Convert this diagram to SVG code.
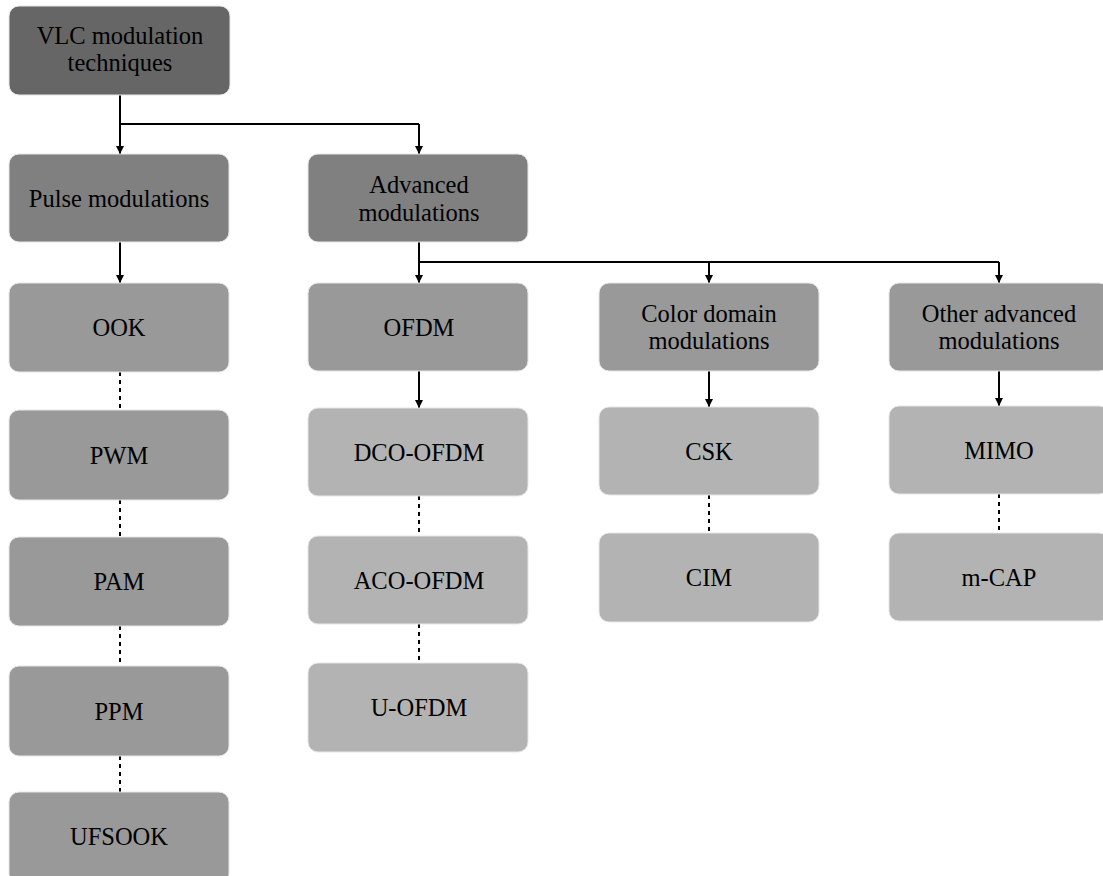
<svg xmlns="http://www.w3.org/2000/svg" width="1103" height="876" viewBox="0 0 1103 876">
<defs>
<marker id="ah" viewBox="0 0 8 10" refX="8" refY="5" markerWidth="8" markerHeight="10" markerUnits="userSpaceOnUse" orient="auto"><path d="M0,1 L8,5 L0,9 z" fill="#000"/></marker>
<style>
.box{stroke:#e6e6e6;stroke-width:1}
.l0{fill:#666666}
.l1{fill:#808080}
.l2{fill:#999999}
.l3{fill:#b3b3b3}
.t{font-size:24.5px;fill:#000;text-anchor:middle}
.c{fill:none;stroke:#000;stroke-width:2}
.a{marker-end:url(#ah)}
.d{stroke-dasharray:4,4}
</style>
</defs>
<rect width="1103" height="876" fill="#fff"/>
<g id="connectors">
<path class="c" d="M120,95 V124 H419"/>
<path class="c a" d="M120,124 V154"/>
<path class="c a" d="M419,124 V154"/>
<path class="c" d="M419,242 V262 H999"/>
<path class="c a" d="M120,242 V283"/>
<path class="c a" d="M419,262 V283"/>
<path class="c a" d="M709,262 V283"/>
<path class="c a" d="M999,262 V283"/>
<path class="c a" d="M419,371 V408"/>
<path class="c a" d="M709,371 V407"/>
<path class="c a" d="M999,371 V406"/>
<path class="c d" d="M120,372 V410"/>
<path class="c d" d="M120,500 V537"/>
<path class="c d" d="M120,626 V666"/>
<path class="c d" d="M120,756 V792"/>
<path class="c d" d="M419,496 V536"/>
<path class="c d" d="M419,624 V663"/>
<path class="c d" d="M709,495 V533"/>
<path class="c d" d="M999,494 V533"/>
</g>
<g font-family="'Liberation Serif', 'Times New Roman', 'DejaVu Serif', serif">
<g id="n-root"><rect class="box l0" x="9" y="6" width="221" height="89" rx="10"/><text class="t" x="120" y="44">VLC modulation</text><text class="t" x="120" y="71">techniques</text></g>
<g id="n-pulse"><rect class="box l1" x="9" y="154" width="220" height="88" rx="10"/><text class="t" x="119" y="206.5">Pulse modulations</text></g>
<g id="n-adv"><rect class="box l1" x="308" y="154" width="220" height="88" rx="10"/><text class="t" x="419" y="193">Advanced</text><text class="t" x="419" y="220.5">modulations</text></g>
<g id="n-ook"><rect class="box l2" x="9" y="283" width="220" height="89" rx="10"/><text class="t" x="119" y="336">OOK</text></g>
<g id="n-pwm"><rect class="box l2" x="9" y="410" width="220" height="90" rx="10"/><text class="t" x="119" y="464">PWM</text></g>
<g id="n-pam"><rect class="box l2" x="9" y="537" width="220" height="89" rx="10"/><text class="t" x="119" y="590">PAM</text></g>
<g id="n-ppm"><rect class="box l2" x="9" y="666" width="220" height="90" rx="10"/><text class="t" x="119" y="720">PPM</text></g>
<g id="n-ufsook"><rect class="box l2" x="9" y="792" width="220" height="92" rx="10"/><text class="t" x="119" y="845">UFSOOK</text></g>
<g id="n-ofdm"><rect class="box l2" x="308" y="283" width="220" height="88" rx="10"/><text class="t" x="419" y="335.5">OFDM</text></g>
<g id="n-color"><rect class="box l2" x="599" y="283" width="220" height="88" rx="10"/><text class="t" x="709" y="322">Color domain</text><text class="t" x="709" y="349">modulations</text></g>
<g id="n-other"><rect class="box l2" x="889" y="283" width="220" height="88" rx="10"/><text class="t" x="999" y="322">Other advanced</text><text class="t" x="999" y="349">modulations</text></g>
<g id="n-dco"><rect class="box l3" x="308" y="408" width="220" height="88" rx="10"/><text class="t" x="419" y="460.5">DCO-OFDM</text></g>
<g id="n-aco"><rect class="box l3" x="308" y="536" width="220" height="88" rx="10"/><text class="t" x="419" y="588.5">ACO-OFDM</text></g>
<g id="n-u"><rect class="box l3" x="308" y="663" width="220" height="89" rx="10"/><text class="t" x="419" y="716">U-OFDM</text></g>
<g id="n-csk"><rect class="box l3" x="599" y="407" width="220" height="88" rx="10"/><text class="t" x="709" y="459.5">CSK</text></g>
<g id="n-cim"><rect class="box l3" x="599" y="533" width="220" height="89" rx="10"/><text class="t" x="709" y="586">CIM</text></g>
<g id="n-mimo"><rect class="box l3" x="889" y="406" width="220" height="88" rx="10"/><text class="t" x="999" y="458.5">MIMO</text></g>
<g id="n-mcap"><rect class="box l3" x="889" y="533" width="220" height="88" rx="10"/><text class="t" x="999" y="585.5">m-CAP</text></g>
</g>
</svg>
